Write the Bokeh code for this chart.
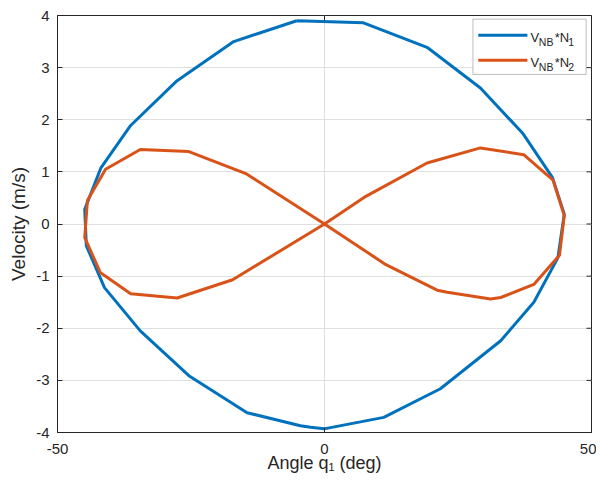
from bokeh.plotting import figure
from bokeh.models import FixedTicker, Label, Range1d, BoxAnnotation
from bokeh.embed import file_html
from bokeh.resources import INLINE

# ---- data ----
blue_x = [-5.2, 7.3, 19.2, 29.2, 37.2, 42.7, 44.9, 43.7, 39.2, 33.0, 21.7, 11.1, -0.1, -2.6,
          -4.5, -14.5, -25.4, -34.5, -41.2, -44.6, -44.9, -41.9, -36.3, -27.6, -17.0, -5.2]
blue_y = [3.90, 3.86, 3.39, 2.61, 1.73, 0.89, 0.19, -0.65, -1.50, -2.24, -3.16, -3.71, -3.93, -3.90,
          -3.87, -3.62, -2.91, -2.05, -1.22, -0.42, 0.28, 1.07, 1.89, 2.75, 3.50, 3.90]

orange_x = [0.0, 7.4, 19.2, 29.2, 37.3, 42.8, 44.9, 44.0, 39.2, 33.0, 31.1, 23.0, 21.1, 11.5, 0.0,
            -14.6, -25.4, -34.5, -41.0, -44.4, -44.9, -42.0, -36.3, -27.6, -17.2, 0.0]
orange_y = [0.0, 0.51, 1.17, 1.46, 1.33, 0.84, 0.16, -0.60, -1.16, -1.41, -1.44, -1.31, -1.27, -0.78, 0.0,
            0.96, 1.39, 1.43, 1.05, 0.45, -0.26, -0.93, -1.34, -1.42, -1.07, 0.0]

x_ticks = [-50, 0, 50]
x_tick_labels = ["-50", "0", "50"]
y_ticks = [-4, -3, -2, -1, 0, 1, 2, 3, 4]
y_tick_labels = ["-4", "-3", "-2", "-1", "0", "1", "2", "3", "4"]

BLUE = "#0072BD"
ORANGE = "#D95319"
AX = "#262626"
FONT = "Liberation Sans"

XMIN, XMAX, YMIN, YMAX = -50, 50, -4, 4
ML, MR, MT, MB = 57, 5, 15, 55
W, H = 596, 487
FW, FH = W - ML - MR, H - MT - MB

p = figure(width=W, height=H, output_backend="svg", toolbar_location=None,
           x_range=Range1d(XMIN, XMAX), y_range=Range1d(YMIN, YMAX),
           min_border_left=ML, min_border_right=MR, min_border_top=MT, min_border_bottom=MB)
p.background_fill_color = "white"
p.border_fill_color = "white"
p.outline_line_color = AX
p.outline_line_width = 1

r1 = p.line(blue_x, blue_y, line_color=BLUE, line_width=3, line_join="round")
r2 = p.line(orange_x, orange_y, line_color=ORANGE, line_width=3, line_join="round")

for ax in (p.xaxis[0], p.yaxis[0]):
    ax.major_tick_in = 5
    ax.major_tick_out = 0
    ax.minor_tick_line_color = None
    ax.axis_line_color = AX
    ax.major_tick_line_color = AX
    ax.major_label_text_color = AX
    ax.major_label_text_font = FONT
    ax.major_label_text_font_size = "15px"
    ax.axis_label_text_font = FONT
    ax.axis_label_text_font_style = "normal"
    ax.axis_label_text_color = AX

p.xaxis[0].ticker = FixedTicker(ticks=x_ticks)
p.yaxis[0].ticker = FixedTicker(ticks=y_ticks)
p.xaxis[0].major_label_overrides = dict(zip(x_ticks, x_tick_labels))
p.yaxis[0].major_label_overrides = dict(zip(y_ticks, y_tick_labels))
p.xaxis[0].axis_label = "Angle q\u2081 (deg)"
p.yaxis[0].axis_label = "Velocity (m/s)"
p.xaxis[0].axis_label_text_font_size = "18px"
p.yaxis[0].axis_label_text_font_size = "19px"
p.xaxis[0].major_label_standoff = 11
p.yaxis[0].major_label_standoff = 8
p.xaxis[0].axis_label_standoff = -4
p.yaxis[0].axis_label_standoff = 4

p.xgrid.ticker = FixedTicker(ticks=x_ticks)
p.ygrid.ticker = FixedTicker(ticks=y_ticks)
p.grid.grid_line_color = "#dfdfdf"
p.grid.grid_line_width = 1

# mirror ticks on the top and right edges of the box (5 px, pointing inwards)
tx = 5 * (XMAX - XMIN) / FW
ty = 5 * (YMAX - YMIN) / FH
p.segment(x0=[XMAX - tx] * len(y_ticks), y0=y_ticks, x1=[XMAX] * len(y_ticks), y1=y_ticks,
          line_color=AX, line_width=1)
p.segment(x0=x_ticks, y0=[YMAX - ty] * len(x_ticks), x1=x_ticks, y1=[YMAX] * len(x_ticks),
          line_color=AX, line_width=1)

# legend (box, line samples and texts with subscripts)
p.add_layout(BoxAnnotation(left=27.8, right=49.0, top=3.93, bottom=2.87,
                           fill_color="white", fill_alpha=1.0, line_color=AX, line_width=1))
sample_y = [3.62, 3.14]
for yy, col in zip(sample_y, [BLUE, ORANGE]):
    p.line([28.8, 38.0], [yy, yy], line_color=col, line_width=3, level="overlay")

def legend_text(xd, yd, txt, size):
    p.add_layout(Label(x=xd, y=yd, text=txt, text_font=FONT, text_font_size=size,
                       text_color=AX, text_baseline="alphabetic", text_align="left",
                       level="overlay"))

for i, yb in enumerate([3.581, 3.102]):
    legend_text(38.58, yb, "V", "13px")
    legend_text(40.13, yb - 0.097, "NB", "10.5px")
    legend_text(43.13, yb, "*N", "13px")
    legend_text(45.64, yb - 0.097, str(i + 1), "10.5px")

open("out.html", "w").write(file_html(p, INLINE))
